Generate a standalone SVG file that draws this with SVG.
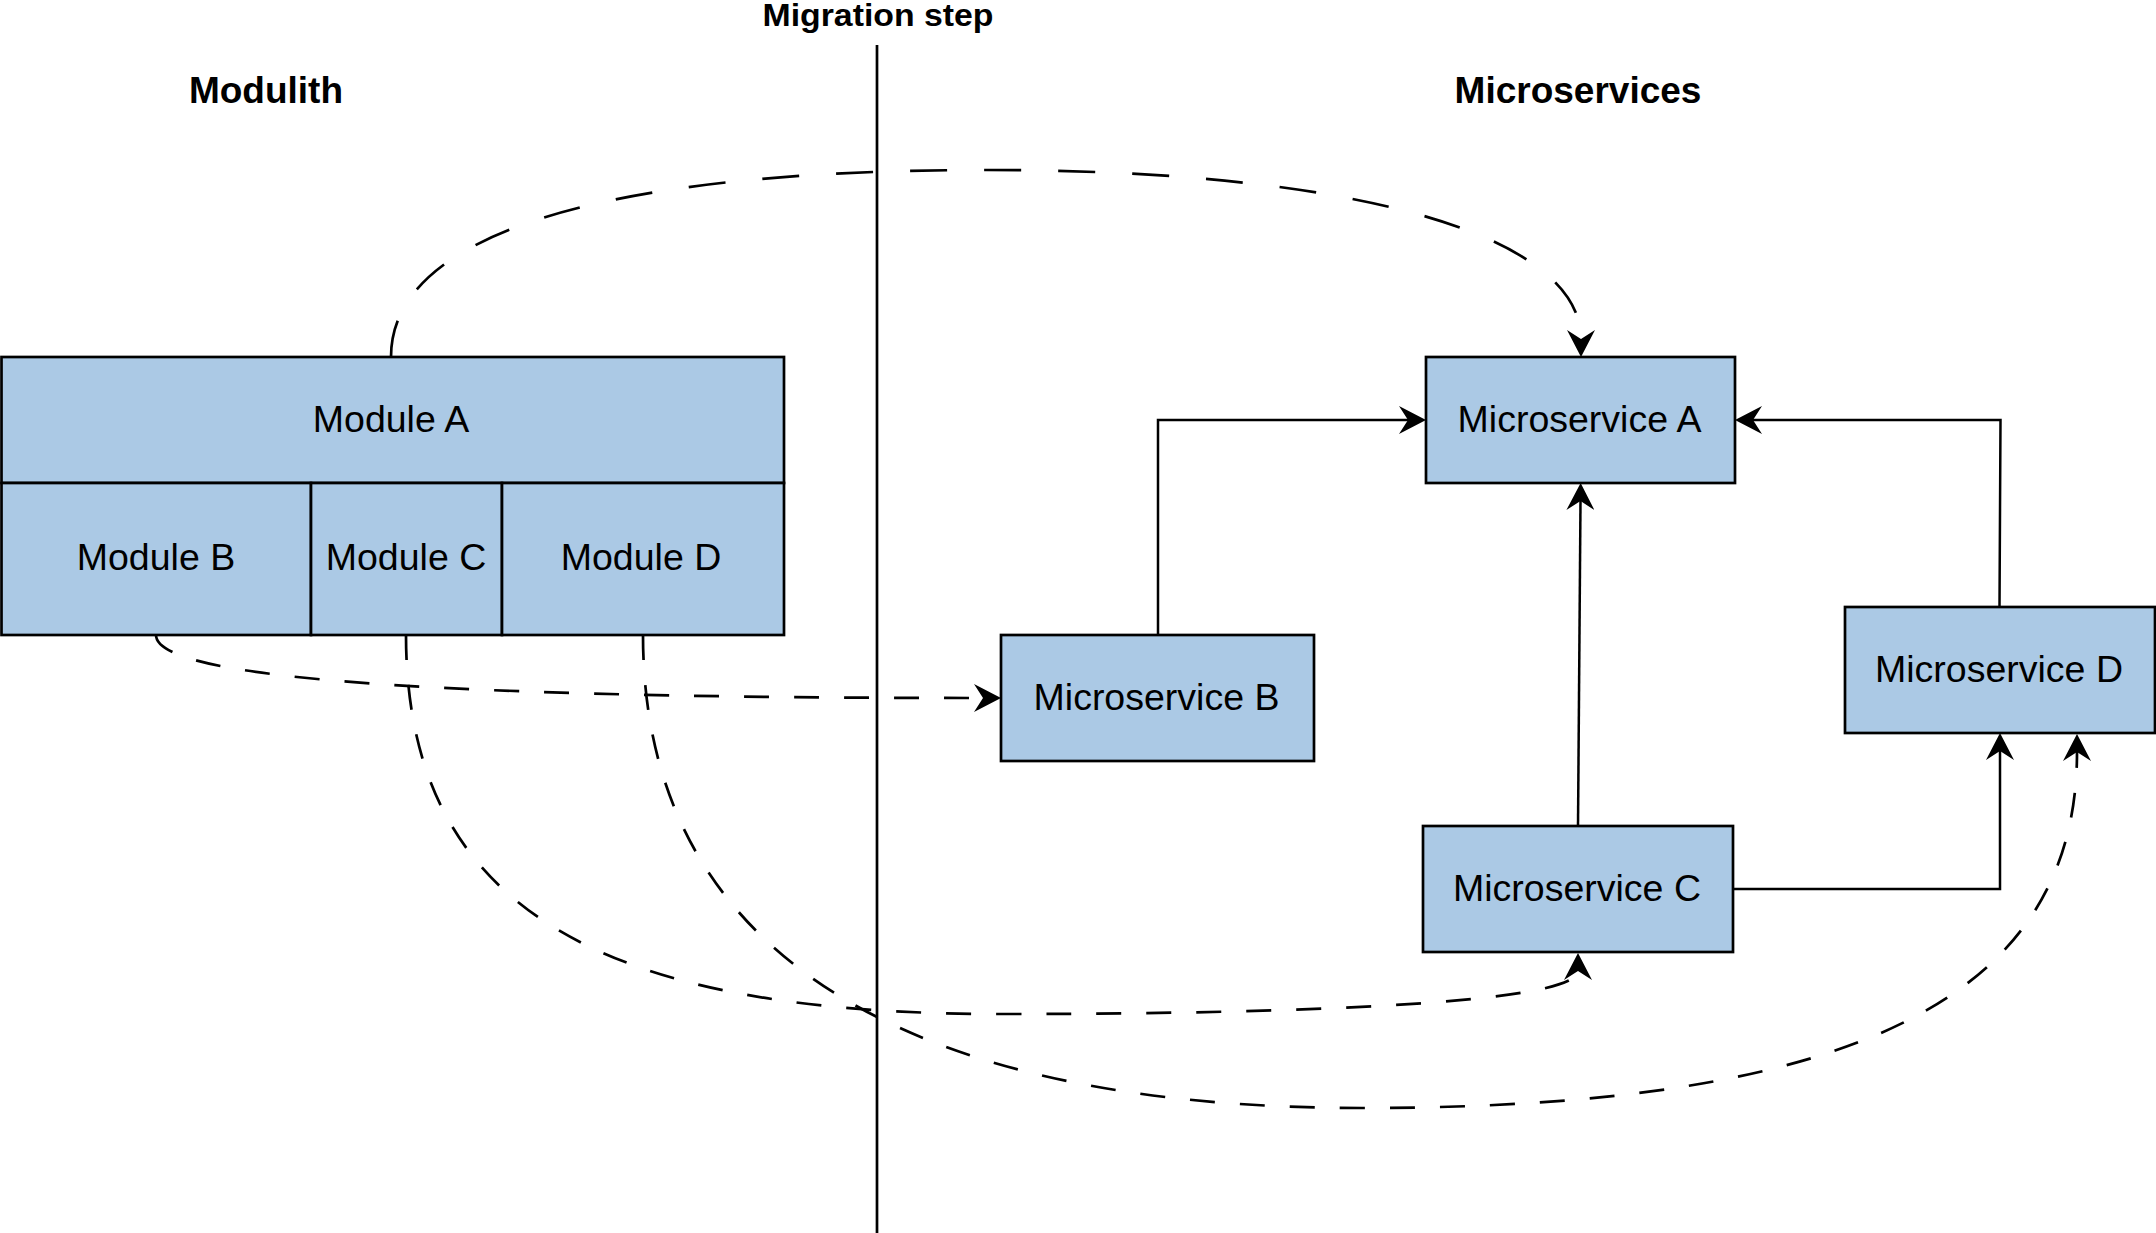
<svg xmlns="http://www.w3.org/2000/svg" width="2156" height="1233" viewBox="0 0 2156 1233">
<style>
.box{fill:#abc9e5;stroke:#000;stroke-width:2.7}
.lbl{font-family:"Liberation Sans",Arial,sans-serif;font-size:37.5px;fill:#000;text-anchor:middle}
.ttl{font-family:"Liberation Sans",Arial,sans-serif;font-size:37px;font-weight:bold;fill:#000;text-anchor:middle}
.solid{fill:none;stroke:#000;stroke-width:2.5;marker-end:url(#arr)}
.dash{fill:none;stroke:#000;stroke-width:2.7;stroke-dasharray:25 25;marker-end:url(#arr)}
.dashL{fill:none;stroke:#000;stroke-width:2.7;stroke-dasharray:37 37;marker-end:url(#arr)}
</style>
<defs>
<marker id="arr" viewBox="0 0 27 28" refX="9" refY="14" markerWidth="27" markerHeight="28" markerUnits="userSpaceOnUse" orient="auto">
<path d="M0,0 L27,14 L0,28 L9,14 Z" fill="#000"/>
</marker>
</defs>
<rect width="2156" height="1233" fill="#fff"/>
<g id="titles">
<text class="ttl" x="266" y="103">Modulith</text>
<text class="ttl" x="1578" y="103">Microservices</text>
<text class="ttl" x="878" y="26" style="font-size:32px" textLength="231" lengthAdjust="spacingAndGlyphs">Migration step</text>
</g>
<g id="migration-line">
<line x1="877" y1="45" x2="877" y2="1233" stroke="#000" stroke-width="2.7"/>
</g>
<g id="module-a"><rect class="box" x="1.5" y="357" width="782.5" height="126"/><text class="lbl" x="391" y="432">Module A</text></g>
<g id="module-b"><rect class="box" x="1.5" y="483" width="309.5" height="152"/><text class="lbl" x="156" y="570">Module B</text></g>
<g id="module-c"><rect class="box" x="311" y="483" width="191" height="152"/><text class="lbl" x="406" y="570">Module C</text></g>
<g id="module-d"><rect class="box" x="502" y="483" width="282" height="152"/><text class="lbl" x="641" y="570">Module D</text></g>
<g id="microservice-a"><rect class="box" x="1426" y="357" width="309" height="126"/><text class="lbl" x="1579.5" y="432">Microservice A</text></g>
<g id="microservice-b"><rect class="box" x="1001" y="635" width="313" height="126"/><text class="lbl" x="1156.5" y="710">Microservice B</text></g>
<g id="microservice-c"><rect class="box" x="1423" y="826" width="310" height="126"/><text class="lbl" x="1577" y="901">Microservice C</text></g>
<g id="microservice-d"><rect class="box" x="1845" y="607" width="310" height="126"/><text class="lbl" x="1999" y="682">Microservice D</text></g>
<g id="connectors">
<path class="solid" d="M1158,635 V420 H1408"/>
<path class="solid" d="M1999.5,607 L2000.5,420 H1753"/>
<path class="solid" d="M1578,826 L1580.5,501"/>
<path class="solid" d="M1733,889 H2000 V751"/>
<path class="dashL" d="M391,357 C391,235 599,170 986,170 C1373,170 1581,240 1581,339"/>
<path class="dash" d="M156,635 C156,680 450,698 983,698"/>
<path class="dash" d="M406,635 C406,920 620,1014 1000,1014 C1350,1014 1578,1000 1578,971"/>
<path class="dash" d="M643,635 C643,950 900,1108 1362,1108 C1850,1108 2077,1000 2077,752"/>
</g>
</svg>
